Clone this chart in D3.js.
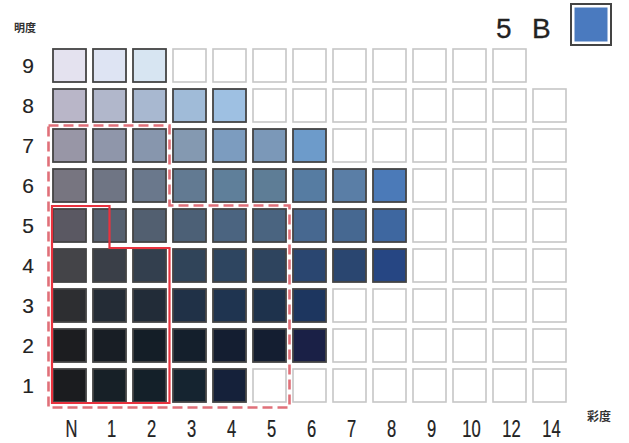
<!DOCTYPE html>
<html><head><meta charset="utf-8">
<script src="https://cdn.jsdelivr.net/npm/d3@7"></script>
<style>body{margin:0;background:#fff}svg{display:block}</style>
</head><body>
<svg id="c" width="629" height="443"></svg>
<script>
const chromaLabels = ["N","1","2","3","4","5","6","7","8","9","10","12","14"];
const valueLabels = [9,8,7,6,5,4,3,2,1];
// colours of filled cells per value row (starting at N); remaining cells up to rowMax are empty
const row9 = ["#e4e2ef","#dee4f3","#d7e5f2"];
const row8 = ["#b9b6c8","#b1b7cb","#a8b8d0","#a0bbd8","#9ec0e2"];
const row7 = ["#9896a6","#8f96aa","#8796ad","#8499b1","#7c9cbf","#7b98b8","#6d9bca"];
const row6 = ["#777580","#6f7584","#6a788c","#627a92","#5f7f9a","#5e7d96","#567ca2","#5a7ea6","#4b7ab8"];
const row5 = ["#5a5862","#56606f","#525f70","#4c6076","#4b6480","#4a6480","#476890","#466891","#3e67a0"];
const row4 = ["#444448","#3a3f48","#333f4e","#304459","#2e4560","#2e445e","#2a4670","#2a4670","#264683"];
const row3 = ["#2d2e31","#242c36","#222c38","#203147","#1f3450","#1e324c","#1d365f"];
const row2 = ["#1c1d20","#181e25","#141e27","#141f2c","#141e31","#141e31","#1a2046"];
const row1 = ["#1b1c1f","#172027","#142029","#152430","#15213a"];
const rowColors = {9:row9,8:row8,7:row7,6:row6,5:row5,4:row4,3:row3,2:row2,1:row1};
const rowLastChroma = {9:"12",8:"14",7:"14",6:"14",5:"14",4:"14",3:"14",2:"14",1:"14"};
const hueLabel = ["5","B"];
const hueColor = "#4a7abf";

const svg = d3.select("#c");
const x = d3.scaleBand().domain(chromaLabels).range([49.5,569.5]).paddingInner(0.175).paddingOuter(0.0875);
const y = d3.scaleBand().domain(valueLabels).range([45.5,405.5]).paddingInner(0.175).paddingOuter(0.0875);
const step = x.step(), gap = step - x.bandwidth();

const cells = [];
valueLabels.forEach(v => {
  const cols = rowColors[v];
  const last = chromaLabels.indexOf(rowLastChroma[v]);
  for (let i = 0; i <= last; i++) cells.push({c: chromaLabels[i], v, color: cols[i] || null});
});

svg.selectAll("rect.cell").data(cells).join("rect")
  .attr("class","cell")
  .attr("x", d => x(d.c)).attr("y", d => y(d.v))
  .attr("width", x.bandwidth()).attr("height", y.bandwidth())
  .attr("fill", d => d.color || "#fff")
  .attr("stroke", d => d.color ? "#444" : "#c6c6c6")
  .attr("stroke-width", d => d.color ? 1.8 : 1.6);

function cornerX(c, side){ return side === "l" ? x(c) - gap/2 : x(c) + x.bandwidth() + gap/2; }
function cornerY(v, side){ return side === "t" ? y(v) - gap/2 : y(v) + y.bandwidth() + gap/2; }
const dPts = [
  [cornerX("N","l")-1, cornerY(7,"t")],
  [cornerX("2","r"), cornerY(7,"t")],
  [cornerX("2","r"), cornerY(6,"b")],
  [cornerX("5","r"), cornerY(6,"b")],
  [cornerX("5","r"), cornerY(1,"b")+2],
  [cornerX("N","l")-1, cornerY(1,"b")+2]
];
svg.append("path").attr("d", d3.line()(dPts)+"Z")
  .attr("fill","none").attr("stroke","#e07079").attr("stroke-width",2.6)
  .attr("stroke-dasharray","10,5");

const sPts = [
  [x("N") - 1, y(5) - 3],
  [x("1") + x.bandwidth()/2, y(5) - 3],
  [x("1") + x.bandwidth()/2, y(4) - 1],
  [cornerX("2","r"), y(4) - 1],
  [cornerX("2","r"), y(1) + y.bandwidth() + 1],
  [x("N") - 1, y(1) + y.bandwidth() + 1]
];
svg.append("path").attr("d", d3.line()(sPts)+"Z")
  .attr("fill","none").attr("stroke","#e8323e").attr("stroke-width",2.2);

// row labels
svg.selectAll("text.vl").data(valueLabels).join("text")
  .attr("class","vl")
  .attr("x", 28).attr("y", d => y(d) + y.bandwidth()/2 + 7.5)
  .attr("text-anchor","middle")
  .attr("font-family","Liberation Sans, Arial, sans-serif").attr("font-size",21)
  .attr("fill","#222").attr("stroke","#222").attr("stroke-width",0.15).text(d => d);

// column labels (condensed)
svg.selectAll("text.cl").data(chromaLabels).join("text")
  .attr("class","cl")
  .attr("transform", d => `translate(${x(d) + x.bandwidth()/2 + 2},437) scale(0.72,1)`)
  .attr("text-anchor","middle")
  .attr("font-family","Liberation Sans, Arial, sans-serif").attr("font-size",23)
  .attr("fill","#222").attr("stroke","#222").attr("stroke-width",0.25).text(d => d);

svg.append("text").attr("x",14).attr("y",32)
  .attr("font-family","Noto Sans CJK JP, sans-serif").attr("font-size",11).attr("font-weight","bold")
  .attr("fill","#333").text("明度");
svg.append("text").attr("x",587).attr("y",421)
  .attr("font-family","Noto Sans CJK JP, sans-serif").attr("font-size",12).attr("font-weight","bold")
  .attr("fill","#333").text("彩度");

svg.append("text").attr("x",496).attr("y",38)
  .attr("font-family","Liberation Sans, Arial, sans-serif").attr("font-size",28)
  .attr("fill","#222").attr("stroke","#222").attr("stroke-width",0.3).text(hueLabel[0]);
svg.append("text").attr("x",532).attr("y",38)
  .attr("font-family","Liberation Sans, Arial, sans-serif").attr("font-size",28)
  .attr("fill","#222").attr("stroke","#222").attr("stroke-width",0.3).text(hueLabel[1]);
svg.append("rect").attr("x",571).attr("y",4).attr("width",40).attr("height",41)
  .attr("fill","#fff").attr("stroke","#444").attr("stroke-width",2);
svg.append("rect").attr("x",574.5).attr("y",7.5).attr("width",33).attr("height",34)
  .attr("fill",hueColor);
</script>
</body></html>
